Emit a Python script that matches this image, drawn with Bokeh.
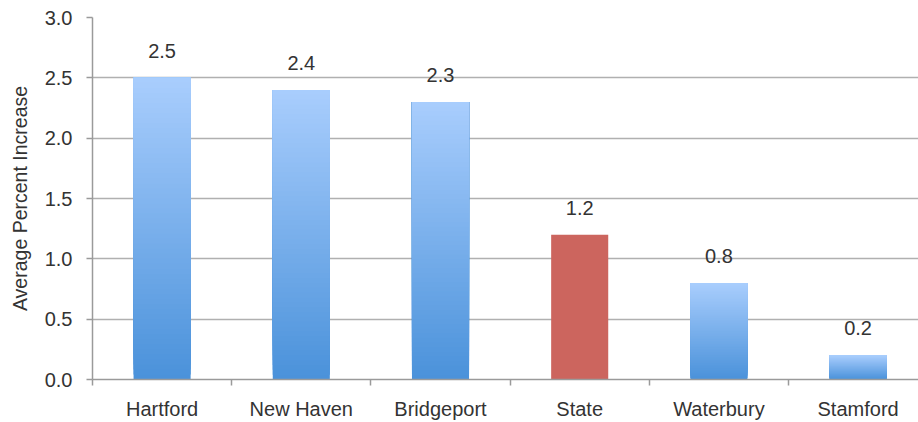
from bokeh.plotting import figure
from bokeh.models import Range1d, FixedTicker, PrintfTickFormatter, ColumnDataSource, LabelSet
from bokeh.core.properties import value
from bokeh.embed import file_html
from bokeh.resources import INLINE

# ---- data ----
categories = ["Hartford", "New Haven", "Bridgeport", "State", "Waterbury", "Stamford"]
values = [2.5, 2.4, 2.3, 1.2, 0.8, 0.2]
value_labels = ["2.5", "2.4", "2.3", "1.2", "0.8", "0.2"]
highlight = ["State"]
y_ticks = [0.0, 0.5, 1.0, 1.5, 2.0, 2.5, 3.0]
y_title = "Average Percent Increase"

# ---- style ----
FONT = "Liberation Sans"
TXT = "#333333"
GRID = "#b0b0b0"
AXIS = "#9a9a9a"
TOP_RGB = (169, 205, 253)
BOT_RGB = (74, 146, 218)
RED = "#cc655e"
BAR_W = 0.41
N_SLICES = 60

n = len(categories)
centers = [i + 0.5 for i in range(n)]

p = figure(width=918, height=422, output_backend="svg", toolbar_location=None,
           x_range=Range1d(0, 826 / 139.2), y_range=Range1d(0, 3.0),
           min_border_top=17, min_border_right=0, min_border_left=92, min_border_bottom=41)
p.outline_line_color = None
p.background_fill_color = "white"
p.border_fill_color = "white"

# bars: gradient made of stacked slices (each slice from its bottom to bar top)
left, right, bottom, top, colors = [], [], [], [], []
for c, v, name in zip(centers, values, categories):
    if name in highlight:
        left.append(c - BAR_W / 2); right.append(c + BAR_W / 2)
        bottom.append(0); top.append(v); colors.append(RED)
        continue
    for k in range(N_SLICES):
        f = k / N_SLICES  # 0 at bottom, 1 at top
        rgb = tuple(int(round(BOT_RGB[j] + (TOP_RGB[j] - BOT_RGB[j]) * (f + 0.5 / N_SLICES))) for j in range(3))
        left.append(c - BAR_W / 2); right.append(c + BAR_W / 2)
        bottom.append(v * f); top.append(v)
        colors.append("#%02x%02x%02x" % rgb)

p.quad(left=left, right=right, bottom=bottom, top=top, fill_color=colors, line_color=None)

# value labels
src = ColumnDataSource(dict(x=centers, y=values, t=value_labels))
labels = LabelSet(x="x", y="y", text="t", source=src, x_offset=0, y_offset=20,
                  text_align="center", text_baseline="alphabetic",
                  text_font=value(FONT), text_font_size=value("20px"), text_color=TXT)
p.add_layout(labels)

# grid
p.xgrid.grid_line_color = None
p.ygrid.ticker = FixedTicker(ticks=y_ticks)
p.ygrid.grid_line_color = GRID
p.ygrid.grid_line_width = 1.5

# y axis
ya = p.yaxis[0]
ya.ticker = FixedTicker(ticks=y_ticks)
ya.formatter = PrintfTickFormatter(format="%.1f")
ya.axis_line_color = AXIS
ya.axis_line_width = 1.5
ya.major_tick_line_color = AXIS
ya.major_tick_line_width = 1.5
ya.major_tick_out = 6
ya.major_tick_in = 0
ya.minor_tick_line_color = None
ya.major_label_text_font = FONT
ya.major_label_text_font_size = "20px"
ya.major_label_text_color = TXT
ya.major_label_standoff = 14
ya.axis_label = y_title
ya.axis_label_text_font = FONT
ya.axis_label_text_font_size = "19.5px"
ya.axis_label_text_font_style = "normal"
ya.axis_label_text_color = TXT
ya.axis_label_standoff = 11

# x axis: labels at centres, ticks at category boundaries
xa = p.xaxis[0]
xa.ticker = FixedTicker(ticks=centers, minor_ticks=list(range(n + 1)))
xa.major_label_overrides = {c: name for c, name in zip(centers, categories)}
xa.axis_line_color = AXIS
xa.axis_line_width = 1.5
xa.major_tick_line_color = None
xa.minor_tick_line_color = AXIS
xa.minor_tick_line_width = 1.5
xa.minor_tick_out = 6
xa.minor_tick_in = 0
xa.major_label_text_font = FONT
xa.major_label_text_font_size = "20px"
xa.major_label_text_color = TXT
xa.major_label_standoff = 12

open("out.html", "w").write(file_html(p, INLINE))
